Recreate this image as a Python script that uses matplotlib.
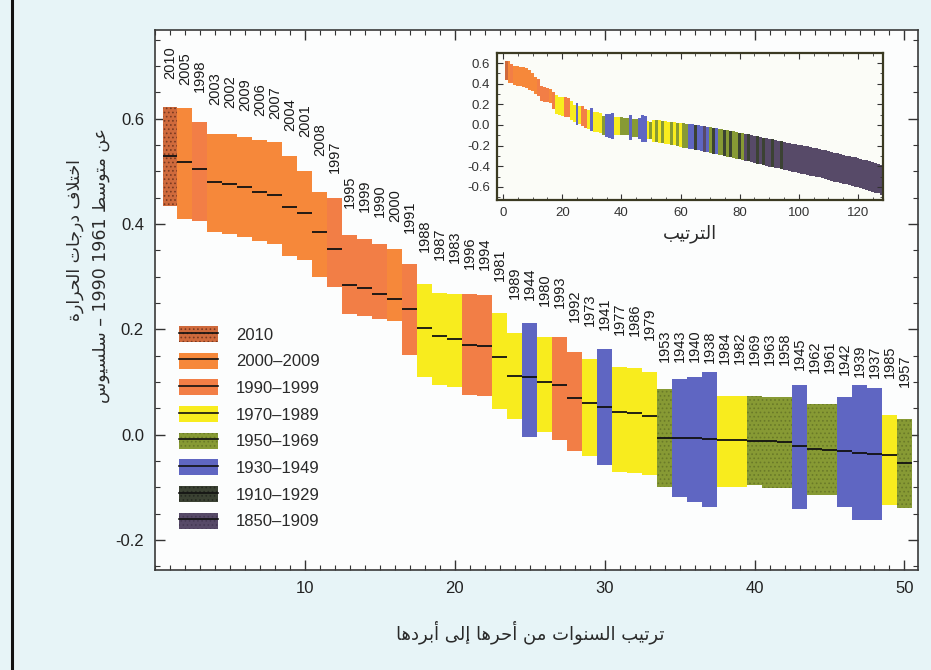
import matplotlib
matplotlib.use('Agg')
import matplotlib.pyplot as plt
from matplotlib.patches import Patch
from matplotlib.lines import Line2D
from matplotlib.legend_handler import HandlerTuple
from matplotlib.ticker import MultipleLocator

plt.rcParams['font.family'] = ['Liberation Sans', 'DejaVu Sans']
plt.rcParams['axes.unicode_minus'] = False
plt.rcParams['hatch.linewidth'] = 0.7

# fifty warmest years, warmest first
years = [2010, 2005, 1998, 2003, 2002, 2009, 2006, 2007, 2004, 2001,
         2008, 1997, 1995, 1999, 1990, 2000, 1991, 1988, 1987, 1983,
         1996, 1994, 1981, 1989, 1944, 1980, 1993, 1992, 1973, 1941,
         1977, 1986, 1979, 1953, 1943, 1940, 1938, 1984, 1982, 1969,
         1963, 1958, 1945, 1962, 1961, 1942, 1939, 1937, 1985, 1957]

anomaly = [0.530, 0.518, 0.505, 0.480, 0.476, 0.470, 0.460, 0.455, 0.432, 0.420,
           0.385, 0.352, 0.285, 0.278, 0.268, 0.258, 0.238, 0.202, 0.187, 0.181,
           0.170, 0.168, 0.147, 0.112, 0.110, 0.100, 0.095, 0.069, 0.061, 0.053,
           0.044, 0.042, 0.035, -0.006, -0.006, -0.007, -0.008, -0.010, -0.010, -0.012,
           -0.012, -0.013, -0.022, -0.027, -0.028, -0.031, -0.035, -0.037, -0.038, -0.054]

upper = [0.623, 0.620, 0.594, 0.571, 0.571, 0.565, 0.560, 0.555, 0.530, 0.500,
         0.460, 0.450, 0.380, 0.372, 0.362, 0.352, 0.324, 0.286, 0.270, 0.267,
         0.267, 0.265, 0.232, 0.194, 0.213, 0.185, 0.185, 0.158, 0.143, 0.162,
         0.128, 0.126, 0.120, 0.086, 0.105, 0.110, 0.120, 0.074, 0.074, 0.074,
         0.072, 0.072, 0.095, 0.059, 0.058, 0.072, 0.095, 0.089, 0.038, 0.029]

lower = [0.435, 0.410, 0.405, 0.385, 0.382, 0.375, 0.368, 0.362, 0.340, 0.332,
         0.300, 0.280, 0.230, 0.225, 0.220, 0.215, 0.152, 0.110, 0.095, 0.090,
         0.076, 0.074, 0.048, 0.030, -0.004, 0.005, -0.010, -0.030, -0.040, -0.057,
         -0.070, -0.072, -0.076, -0.099, -0.118, -0.128, -0.137, -0.099, -0.100, -0.095,
         -0.101, -0.101, -0.141, -0.114, -0.114, -0.137, -0.162, -0.162, -0.133, -0.139]

# ranks 51-128 for the small overview panel
tail_anomaly = [-0.055, -0.060, -0.062, -0.068, -0.070, -0.077, -0.080, -0.086, -0.090, -0.097,
                -0.100, -0.105, -0.110, -0.112, -0.120, -0.124, -0.131, -0.135, -0.141, -0.146,
                -0.151, -0.157, -0.161, -0.168, -0.172, -0.179, -0.184, -0.191, -0.195, -0.203,
                -0.208, -0.215, -0.221, -0.229, -0.234, -0.243, -0.248, -0.256, -0.261, -0.269,
                -0.274, -0.281, -0.286, -0.293, -0.297, -0.305, -0.310, -0.317, -0.321, -0.329,
                -0.334, -0.341, -0.345, -0.353, -0.357, -0.365, -0.369, -0.377, -0.384, -0.393,
                -0.399, -0.408, -0.413, -0.422, -0.427, -0.436, -0.441, -0.450, -0.455, -0.464,
                -0.469, -0.479, -0.485, -0.495, -0.501, -0.511, -0.519, -0.531]
tail_spread = [0.105, 0.105, 0.108, 0.108, 0.110, 0.110, 0.112, 0.112, 0.114, 0.115,
               0.118, 0.118, 0.120, 0.120, 0.122, 0.122, 0.124, 0.124, 0.125, 0.125,
               0.126, 0.126, 0.127, 0.127, 0.128, 0.128, 0.129, 0.129, 0.130, 0.130,
               0.130, 0.131, 0.131, 0.132, 0.132, 0.132, 0.133, 0.133, 0.133, 0.134,
               0.134, 0.134, 0.135, 0.135, 0.135, 0.135, 0.136, 0.136, 0.136, 0.136,
               0.137, 0.137, 0.137, 0.137, 0.138, 0.138, 0.138, 0.138, 0.139, 0.139,
               0.139, 0.139, 0.140, 0.140, 0.140, 0.140, 0.141, 0.141, 0.141, 0.141,
               0.142, 0.142, 0.142, 0.142, 0.143, 0.143, 0.143, 0.143]
tail_start_year = ([1970, 1950, 1970, 1950, 1970, 1970, 1950, 1970, 1950, 1970, 1950, 1950,
                    1930, 1930, 1910, 1930, 1930, 1850, 1930,
                    1950, 1910, 1930, 1950, 1950, 1910,
                    1950, 1910, 1950, 1950, 1910, 1950, 1850,
                    1910, 1850, 1850, 1910, 1850, 1910, 1850, 1850, 1910, 1850, 1850, 1910, 1850]
                   + [1850] * 33)

periods = ['2010', '2000–2009', '1990–1999', '1970–1989',
           '1950–1969', '1930–1949', '1910–1929', '1850–1909']
colors = {'2010': '#cf6a3c', '2000–2009': '#f6883a', '1990–1999': '#f27e46',
          '1970–1989': '#f8ec1e', '1950–1969': '#879a34', '1930–1949': '#5f66c2',
          '1910–1929': '#3b4233', '1850–1909': '#574a68'}
hatches = {'2010': '....', '1950–1969': '....', '1910–1929': '....', '1850–1909': '....'}
hatch_colors = {'2010': '#7a3a20', '1950–1969': '#6a7a28', '1910–1929': '#262a22',
                '1850–1909': '#463a55'}


def period_of(year):
    if year == 2010:
        return '2010'
    for start, name in [(2000, '2000–2009'), (1990, '1990–1999'), (1970, '1970–1989'),
                        (1950, '1950–1969'), (1930, '1930–1949'), (1910, '1910–1929')]:
        if year >= start:
            return name
    return '1850–1909'


# --- minimal Arabic shaping (presentation forms + right-to-left order) ---
AR_FORMS = {
    'ء': (0xFE80, 1), 'آ': (0xFE81, 2), 'أ': (0xFE83, 2), 'ؤ': (0xFE85, 2),
    'إ': (0xFE87, 2), 'ئ': (0xFE89, 4), 'ا': (0xFE8D, 2), 'ب': (0xFE8F, 4),
    'ة': (0xFE93, 2), 'ت': (0xFE95, 4), 'ث': (0xFE99, 4), 'ج': (0xFE9D, 4),
    'ح': (0xFEA1, 4), 'خ': (0xFEA5, 4), 'د': (0xFEA9, 2), 'ذ': (0xFEAB, 2),
    'ر': (0xFEAD, 2), 'ز': (0xFEAF, 2), 'س': (0xFEB1, 4), 'ش': (0xFEB5, 4),
    'ص': (0xFEB9, 4), 'ض': (0xFEBD, 4), 'ط': (0xFEC1, 4), 'ظ': (0xFEC5, 4),
    'ع': (0xFEC9, 4), 'غ': (0xFECD, 4), 'ف': (0xFED1, 4), 'ق': (0xFED5, 4),
    'ك': (0xFED9, 4), 'ل': (0xFEDD, 4), 'م': (0xFEE1, 4), 'ن': (0xFEE5, 4),
    'ه': (0xFEE9, 4), 'و': (0xFEED, 2), 'ى': (0xFEEF, 2), 'ي': (0xFEF1, 4),
}
LAM_ALEF = {'آ': 0xFEF5, 'أ': 0xFEF7, 'إ': 0xFEF9, 'ا': 0xFEFB}


def _joins_next(ch):
    return isinstance(ch, str) and ch in AR_FORMS and AR_FORMS[ch][1] == 4


def _shape_word(word):
    letters, i = [], 0
    while i < len(word):
        if word[i] == 'ل' and i + 1 < len(word) and word[i + 1] in LAM_ALEF:
            letters.append(('la', word[i + 1]))
            i += 2
        else:
            letters.append(word[i])
            i += 1
    out = []
    for k, ch in enumerate(letters):
        prev_joins = k > 0 and _joins_next(letters[k - 1])
        nxt = letters[k + 1] if k + 1 < len(letters) else None
        if isinstance(ch, tuple):
            out.append(chr(LAM_ALEF[ch[1]] + (1 if prev_joins else 0)))
            continue
        if ch not in AR_FORMS:
            out.append(ch)
            continue
        base, n = AR_FORMS[ch]
        if n == 1:
            out.append(chr(base))
        elif n == 2:
            out.append(chr(base + (1 if prev_joins else 0)))
        else:
            next_ok = nxt is not None and (isinstance(nxt, tuple) or nxt in AR_FORMS)
            if prev_joins and next_ok:
                out.append(chr(base + 3))
            elif prev_joins:
                out.append(chr(base + 1))
            elif next_ok:
                out.append(chr(base + 2))
            else:
                out.append(chr(base))
    return ''.join(reversed(out))


def arabic(text):
    tokens = []
    for tok in text.split(' '):
        if any(c in AR_FORMS for c in tok):
            tokens.append(_shape_word(tok))
        else:
            tokens.append(tok)
    return ' '.join(reversed(tokens))


ar_font = dict(family=['DejaVu Sans'], color='#2a2a2a')

fig = plt.figure(figsize=(9.31, 6.70), dpi=100, facecolor='#e7f4f7')
ax = fig.add_axes([0.1665, 0.149, 0.8195, 0.806], facecolor='#fcfdfd')

ranks = list(range(1, len(years) + 1))
for r, yr, lo, hi in zip(ranks, years, lower, upper):
    p = period_of(yr)
    ax.bar(r, hi - lo, bottom=lo, width=1.0, color=colors[p], hatch=hatches.get(p),
           edgecolor=hatch_colors.get(p, colors[p]), linewidth=0, zorder=2)
ax.hlines(anomaly, [r - 0.5 for r in ranks], [r + 0.5 for r in ranks],
          color='#111111', lw=1.3, zorder=3)

for r, yr, v in zip(ranks, years, anomaly):
    ax.text(r, v + 0.145, str(yr), rotation=90, ha='center', va='bottom',
            fontsize=10.5, color='#1a1a1a', zorder=4)

ax.set_xlim(0, 50.9)
ax.set_ylim(-0.257, 0.768)
ax.set_xticks([10, 20, 30, 40, 50])
ax.set_yticks([-0.2, 0.0, 0.2, 0.4, 0.6])
ax.set_yticklabels(['-0.2', '0.0', '0.2', '0.4', '0.6'])
ax.xaxis.set_minor_locator(MultipleLocator(1))
ax.yaxis.set_minor_locator(MultipleLocator(0.05))
ax.tick_params(which='both', direction='in', top=True, right=True,
               labelsize=12, colors='#333333', labelcolor='#222222')
ax.tick_params(which='major', length=7, width=1.0, pad=8)
ax.tick_params(which='minor', length=3.5, width=0.8)
for s in ax.spines.values():
    s.set_color('#3a3a3a')
    s.set_linewidth(1.2)

handles = []
for p in periods:
    patch = Patch(facecolor=colors[p], hatch=hatches.get(p),
                  edgecolor=hatch_colors.get(p, colors[p]), linewidth=0)
    handles.append((patch, Line2D([], [], color='#111111', lw=1.2)))
ax.legend(handles, periods, loc='upper left', bbox_to_anchor=(0.012, 0.48),
          frameon=False, fontsize=12, handlelength=2.3, handleheight=1.1,
          labelspacing=0.6, handletextpad=1.1, labelcolor='#2a2a2a',
          handler_map={tuple: HandlerTuple(ndivide=1)})

# overview of all ranks
ins = fig.add_axes([0.534, 0.7015, 0.4146, 0.2194], facecolor='#fbfcf7')
all_lo = lower + [v - s for v, s in zip(tail_anomaly, tail_spread)]
all_hi = upper + [v + s for v, s in zip(tail_anomaly, tail_spread)]
all_per = [period_of(y) for y in years] + [period_of(y) for y in tail_start_year]
for r, (lo, hi, p) in enumerate(zip(all_lo, all_hi, all_per), start=1):
    ins.bar(r, hi - lo, bottom=lo, width=1.0, color=colors[p], linewidth=0)
ins.set_xlim(-2, 128.5)
ins.set_ylim(-0.726, 0.697)
ins.set_xticks([0, 20, 40, 60, 80, 100, 120])
ins.set_yticks([-0.6, -0.4, -0.2, 0.0, 0.2, 0.4, 0.6])
ins.set_yticklabels(['-0.6', '-0.4', '-0.2', '0.0', '0.2', '0.4', '0.6'])
ins.xaxis.set_minor_locator(MultipleLocator(5))
ins.yaxis.set_minor_locator(MultipleLocator(0.1))
ins.tick_params(which='both', direction='in', top=True, right=True,
                labelsize=9.5, colors='#333333', labelcolor='#333333')
ins.tick_params(which='major', length=4, pad=5)
ins.tick_params(which='minor', length=2)
for s in ins.spines.values():
    s.set_color('#3b3a22')
    s.set_linewidth(1.6)
ins.set_xlabel(arabic('الترتيب'), fontsize=13, labelpad=4, **ar_font)

fig.text(0.081, 0.642, arabic('اختلاف درجات الحرارة'), rotation=90,
         ha='center', va='center', fontsize=12.5, **ar_font)
fig.text(0.108, 0.604, arabic('عن متوسط 1961 1990 – سلسيوس'), rotation=90,
         ha='center', va='center', fontsize=12.5, **ar_font)
fig.text(0.569, 0.057, arabic('ترتيب السنوات من أحرها إلى أبردها'),
         ha='center', va='center', fontsize=13, **ar_font)

fig.add_artist(Line2D([0.013, 0.013], [0.0, 1.0], color='#111111', lw=2.2,
                      transform=fig.transFigure))

fig.savefig('out.png', dpi=100, facecolor=fig.get_facecolor())
